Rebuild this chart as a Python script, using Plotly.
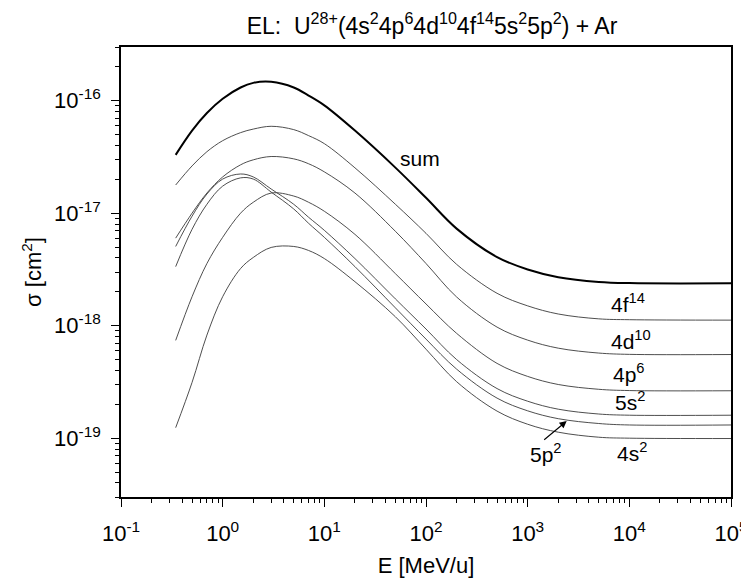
import math
import plotly.graph_objects as go

# Energy grid (MeV/u)
energy = [0.345, 0.5, 0.7, 1, 1.5, 2, 3, 5, 7, 10, 20, 50, 100, 200, 500,
          1000, 2000, 5000, 1e4, 1e5]

# Cross sections (cm^2)
sigma_sum = [3.30e-17, 5.42e-17, 7.77e-17, 1.04e-16, 1.31e-16, 1.44e-16, 1.47e-16,
             1.31e-16, 1.11e-16, 9.08e-17, 5.42e-17, 2.54e-17, 1.37e-17, 7.29e-18,
             4.07e-18, 3.16e-18, 2.70e-18, 2.45e-18, 2.39e-18, 2.38e-18]
sigma_4f14 = [1.78e-17, 2.63e-17, 3.52e-17, 4.41e-17, 5.20e-17, 5.59e-17, 5.92e-17,
              5.53e-17, 4.89e-17, 4.15e-17, 2.53e-17, 1.20e-17, 6.62e-18, 3.51e-18,
              1.94e-18, 1.50e-18, 1.27e-18, 1.15e-18, 1.13e-18, 1.12e-18]
sigma_4d10 = [6.0e-18, 1.0e-17, 1.51e-17, 2.10e-17, 2.69e-17, 2.98e-17, 3.19e-17,
              3.04e-17, 2.75e-17, 2.33e-17, 1.51e-17, 6.90e-18, 3.57e-18, 1.80e-18,
              9.71e-19, 7.44e-19, 6.31e-19, 5.71e-19, 5.56e-19, 5.54e-19]
sigma_4p6 = [7.40e-19, 1.81e-18, 3.57e-18, 6.10e-18, 1.0e-17, 1.25e-17, 1.51e-17,
             1.42e-17, 1.25e-17, 1.04e-17, 6.48e-18, 2.90e-18, 1.56e-18, 8.55e-19,
             4.62e-19, 3.54e-19, 3.00e-19, 2.72e-19, 2.65e-19, 2.64e-19]
sigma_5s2 = [5.06e-18, 9.40e-18, 1.48e-17, 2.01e-17, 2.23e-17, 2.10e-17, 1.64e-17,
             1.20e-17, 9.20e-18, 7.04e-18, 3.95e-18, 1.73e-18, 9.34e-19, 5.00e-19,
             2.76e-19, 2.13e-19, 1.81e-19, 1.64e-19, 1.60e-19, 1.60e-19]
sigma_5p2 = [3.35e-18, 7.19e-18, 1.20e-17, 1.74e-17, 2.06e-17, 2.01e-17, 1.54e-17,
             1.09e-17, 8.13e-18, 6.10e-18, 3.35e-18, 1.44e-18, 7.60e-19, 4.11e-19,
             2.27e-19, 1.75e-19, 1.49e-19, 1.35e-19, 1.31e-19, 1.31e-19]
sigma_4s2 = [1.24e-19, 3.13e-19, 8.25e-19, 1.81e-18, 3.22e-18, 4.04e-18, 4.96e-18,
             5.06e-18, 4.66e-18, 3.95e-18, 2.46e-18, 1.20e-18, 6.18e-19, 3.18e-19,
             1.74e-19, 1.33e-19, 1.13e-19, 1.02e-19, 1.00e-19, 9.93e-20]

components = [sigma_4f14, sigma_4d10, sigma_4p6, sigma_5s2, sigma_5p2, sigma_4s2]

y_tick_vals = [1e-19, 1e-18, 1e-17, 1e-16]
y_tick_text = ["10<sup>-19</sup>", "10<sup>-18</sup>", "10<sup>-17</sup>", "10<sup>-16</sup>"]
x_tick_vals = [1e-1, 1e0, 1e1, 1e2, 1e3, 1e4, 1e5]
x_tick_text = ["10<sup>-1</sup>", "10<sup>0</sup>", "10<sup>1</sup>", "10<sup>2</sup>",
               "10<sup>3</sup>", "10<sup>4</sup>", "10<sup>5</sup>"]

FONT = "Liberation Sans, Arial, sans-serif"

fig = go.Figure()
for comp in components:
    fig.add_trace(go.Scatter(x=energy, y=comp, mode="lines",
                             line=dict(color="#3a3a3a", width=0.9, shape="spline"),
                             showlegend=False, hoverinfo="skip"))
fig.add_trace(go.Scatter(x=energy, y=sigma_sum, mode="lines",
                         line=dict(color="black", width=2, shape="spline"),
                         showlegend=False, hoverinfo="skip"))

minor_x = [m * 10.0 ** k for k in range(-1, 5) for m in range(2, 10)]
minor_y = [m * 10.0 ** k for k in range(-20, -15) for m in range(2, 10)]

fig.update_xaxes(type="log", range=[-1, 5], showgrid=False, zeroline=False,
                 automargin=False,
                 showline=True, linecolor="black", linewidth=1.6, mirror=True,
                 ticks="outside", ticklen=8, tickwidth=1.4, tickcolor="black",
                 tickmode="array", tickvals=x_tick_vals, ticktext=x_tick_text,
                 ticklabelstandoff=8,
                 tickfont=dict(family=FONT, size=22, color="black"),
                 minor=dict(ticks="outside", ticklen=4, tickwidth=1.2, tickcolor="black",
                            tickmode="array", tickvals=minor_x, showgrid=False),
                 title=dict(text="E [MeV/u]", font=dict(family=FONT, size=22, color="black"),
                            standoff=12))
fig.update_yaxes(type="log", range=[math.log10(3e-20), math.log10(3e-16)], showgrid=False,
                 automargin=False,
                 zeroline=False, showline=True, linecolor="black", linewidth=1.6, mirror=True,
                 ticks="outside", ticklen=8, tickwidth=1.4, tickcolor="black",
                 tickmode="array", tickvals=y_tick_vals, ticktext=y_tick_text,
                 ticklabelstandoff=6,
                 tickfont=dict(family=FONT, size=22, color="black"),
                 minor=dict(ticks="outside", ticklen=4, tickwidth=1.2, tickcolor="black",
                            tickmode="array", tickvals=minor_y, showgrid=False),
                 title=dict(text="σ [cm<sup>2</sup>]", font=dict(family=FONT, size=22, color="black"),
                            standoff=6))

labels = [
    ("sum", 1.940, -16.517),
    ("4f<sup>14</sup>", 3.982, -17.80),
    ("4d<sup>10</sup>", 4.017, -18.13),
    ("4p<sup>6</sup>", 3.997, -18.42),
    ("5s<sup>2</sup>", 4.002, -18.67),
    ("4s<sup>2</sup>", 4.022, -19.12),
    ("5p<sup>2</sup>", 3.180, -19.13),
]
for txt, lx, ly in labels:
    fig.add_annotation(x=lx, y=ly, xref="x", yref="y", text=txt, showarrow=False,
                       font=dict(family=FONT, size=21, color="black"))

fig.add_annotation(x=math.log10(2420), y=math.log10(1.42e-19), xref="x", yref="y",
                   text="", showarrow=True, arrowhead=2, arrowsize=1.3, arrowwidth=1.1,
                   arrowcolor="black", ax=-24, ay=20, standoff=0)

# the page body adds an 8px offset, compensated in the margins
fig.update_layout(
    width=749, height=585,
    margin=dict(l=113, r=26, t=39, b=96),
    paper_bgcolor="white", plot_bgcolor="white",
    title=dict(text="EL:  U<sup>28+</sup>(4s<sup>2</sup>4p<sup>6</sup>4d<sup>10</sup>4f<sup>14</sup>5s<sup>2</sup>5p<sup>2</sup>) + Ar",
               x=424 / 749, xanchor="center", y=1 - 18 / 585, yanchor="middle",
               xref="container", yref="container",
               font=dict(family=FONT, size=23, color="black")),
)

fig.write_html("out.html")
